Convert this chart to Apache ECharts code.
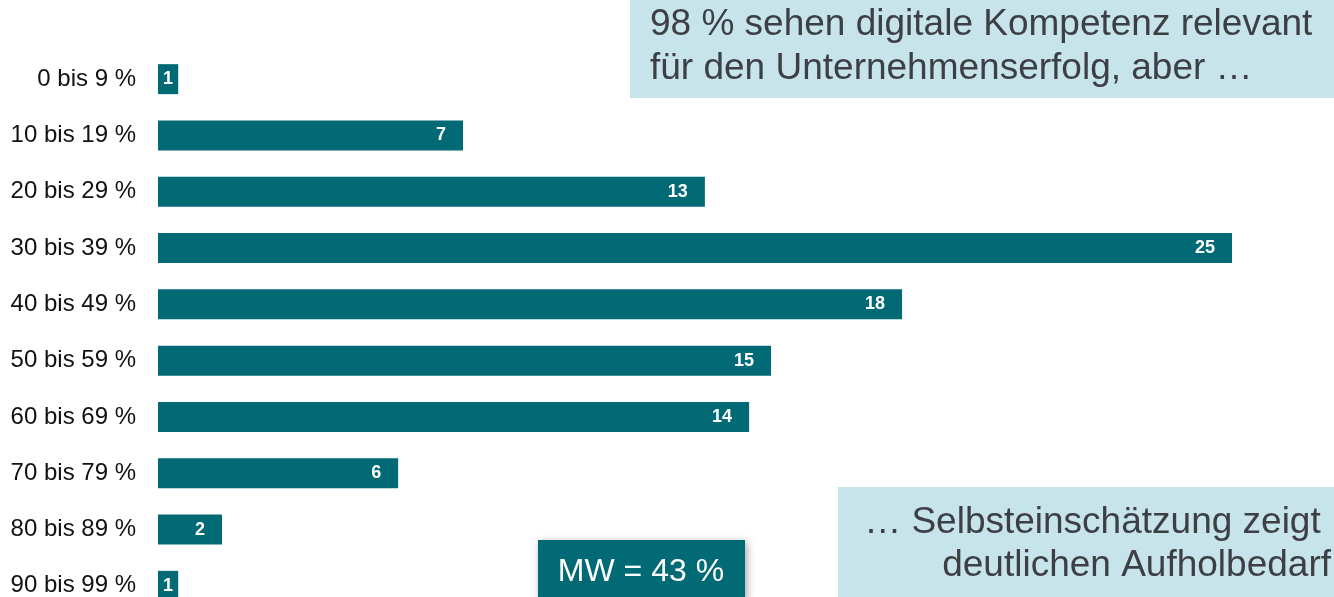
<!DOCTYPE html>
<html>
<head>
<meta charset="utf-8">
<script src="https://cdn.jsdelivr.net/npm/echarts@6/dist/echarts.min.js"></script>
<style>
  html, body { margin: 0; padding: 0; background: #fff; }
  #chart { width: 1334px; height: 597px; }
</style>
</head>
<body>
<div id="chart"></div>
<script>
// Anteil digitaler Kompetenz (Selbsteinschätzung), Verteilung in %
var categories = ['0 bis 9 %', '10 bis 19 %', '20 bis 29 %', '30 bis 39 %', '40 bis 49 %',
  '50 bis 59 %', '60 bis 69 %', '70 bis 79 %', '80 bis 89 %', '90 bis 99 %'];
// Balkenlängen (ungerundet)
var shares = [0.47, 7.1, 12.73, 25.0, 17.32, 14.27, 13.76, 5.59, 1.49, 0.47];
// angezeigte, gerundete Werte
var shareLabels = [1, 7, 13, 25, 18, 15, 14, 6, 2, 1];

var teal = '#026a74';
var boxBg = '#c6e4ea';
var boxInk = '#3c3f44';
var font = '"Liberation Sans", Arial, sans-serif';

var chart = echarts.init(document.getElementById('chart'), null, { renderer: 'canvas' });

var barData = shares.map(function(v, i) {
  var item = { value: v, labelText: shareLabels[i] };
  if (v < 1) {
    item.label = { position: 'inside' };
  }
  return item;
});

chart.setOption({
  animation: false,
  backgroundColor: '#fff',
  grid: {
    left: 158, top: 51, width: 27 * 42.96, height: 563,
    containLabel: false,
    outerBoundsMode: 'none'
  },
  xAxis: {
    type: 'value',
    min: 0,
    max: 27,
    show: false
  },
  yAxis: {
    type: 'category',
    inverse: true,
    data: categories,
    axisLine: { show: false },
    axisTick: { show: false },
    axisLabel: {
      margin: 22,
      color: '#111',
      fontSize: 24,
      fontFamily: font
    }
  },
  series: [{
    type: 'bar',
    data: barData,
    barWidth: 30,
    itemStyle: { color: teal },
    label: {
      show: true,
      position: 'insideRight',
      distance: 17,
      color: '#fff',
      fontWeight: 'bold',
      fontSize: 18,
      fontFamily: font,
      formatter: function(p) { return p.data.labelText; }
    }
  }],
  graphic: [
    {
      type: 'rect',
      shape: { x: 630, y: 0, width: 704, height: 98 },
      style: { fill: boxBg }
    },
    {
      type: 'text',
      x: 650, y: 3,
      style: {
        text: '98 % sehen digitale Kompetenz relevant\nfür den Unternehmenserfolg, aber …',
        fill: boxInk,
        font: '37px ' + font,
        lineHeight: 44
      }
    },
    {
      type: 'rect',
      shape: { x: 838, y: 487, width: 496, height: 110 },
      style: { fill: boxBg }
    },
    {
      type: 'text',
      x: 1331, y: 501,
      style: {
        text: '… Selbsteinschätzung zeigt \ndeutlichen Aufholbedarf',
        fill: boxInk,
        align: 'right',
        font: '37px ' + font,
        lineHeight: 43
      }
    },
    {
      type: 'rect',
      shape: { x: 538, y: 540, width: 207, height: 60 },
      style: {
        fill: teal,
        shadowBlur: 8,
        shadowColor: 'rgba(0,0,0,0.35)',
        shadowOffsetX: 2,
        shadowOffsetY: 2
      }
    },
    {
      type: 'text',
      x: 641, y: 572,
      style: {
        text: 'MW = 43 %',
        fill: '#fff',
        align: 'center',
        verticalAlign: 'middle',
        font: '32px ' + font
      }
    }
  ]
});

window.addEventListener('resize', function() { chart.resize(); });
</script>
</body>
</html>
